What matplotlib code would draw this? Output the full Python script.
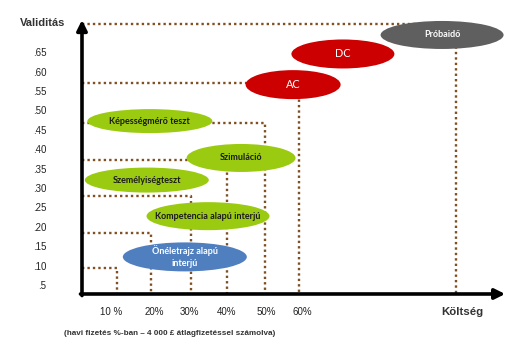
import matplotlib.pyplot as plt
from matplotlib.patches import Ellipse

# methods: name, cost (% of monthly salary), validity
methods = ["Próbaidő", "DC", "AC", "Képességmérő teszt", "Szimuláció",
           "Személyiségteszt", "Kompetencia alapú interjú", "Önéletrajz alapú\ninterjú"]
cost = [96.6, 70.5, 57.4, 19.7, 43.7, 18.9, 35.0, 28.9]
validity = [0.697, 0.648, 0.569, 0.475, 0.380, 0.323, 0.230, 0.125]
groups = ["grey", "red", "red", "green", "green", "green", "green", "blue"]

# dotted guide lines: validity level -> cost level
guide_validity = [0.725, 0.573, 0.469, 0.374, 0.281, 0.186, 0.096]
guide_cost = [100.3, 59.0, 50.0, 40.0, 30.5, 20.0, 11.1]

y_ticks = [0.05, 0.10, 0.15, 0.20, 0.25, 0.30, 0.35, 0.40, 0.45, 0.50, 0.55, 0.60, 0.65]
y_labels = [".5", ".10", ".15", ".20", ".25", ".30", ".35", ".40", ".45", ".50", ".55", ".60", ".65"]
x_ticks = [9.5, 20.8, 30, 40, 50.3, 59.7]
x_labels = ["10 %", "20%", "30%", "40%", "50%", "60%"]

fills = {"grey": "#5f5f5f", "red": "#cc0000", "green": "#9bcb10", "blue": "#4f7fbf"}
text_col = {"grey": "white", "red": "white", "green": "#1a1a1a", "blue": "white"}
# ellipse size in pixels (w, h)
sizes = [(123, 28), (103, 29), (95, 29), (125, 24), (109, 28), (124, 25), (123, 28), (124, 29)]

PX_X = 3.8     # pixels per cost %
PX_Y = 388.0   # pixels per validity unit
W, H = 528, 362

fig = plt.figure(figsize=(W / 100, H / 100), dpi=100)
ax = fig.add_axes([0, 0, 1, 1])
ax.set_xlim(-75 / PX_X, (W - 75) / PX_X)
ax.set_ylim(-56.6 / PX_Y, (H - 56.6) / PX_Y)
ax.axis("off")

x0, y0 = 1.84, 0.0294
brown = "#804f22"
for gv, gc in zip(guide_validity, guide_cost):
    ax.plot([x0, gc, gc], [gv, gv, y0], color=brown, lw=1.7,
            linestyle=(0, (1, 1.3)), zorder=1)

for name, c, v, g, (w, h) in zip(methods, cost, validity, groups, sizes):
    ax.add_patch(Ellipse((c, v), w / PX_X, h / PX_Y, facecolor=fills[g],
                         edgecolor="none", zorder=3))
    big = name in ("DC", "AC")
    ax.text(c, v, name, ha="center", va="center", color=text_col[g],
            fontsize=7.8 if big else 6.5, fontweight="normal" if big else "bold",
            family="Lato", linespacing=1.4, zorder=4)

# axes with arrows
ax.annotate("", xy=(x0, 0.7356), xytext=(x0, y0 - 0.004),
            arrowprops=dict(arrowstyle="-|>,head_length=0.6,head_width=0.3",
                            color="black", lw=2.6, shrinkA=0, shrinkB=0), zorder=5)
ax.annotate("", xy=(113.2, y0), xytext=(x0 - 0.4, y0),
            arrowprops=dict(arrowstyle="-|>,head_length=0.6,head_width=0.3",
                            color="black", lw=2.6, shrinkA=0, shrinkB=0), zorder=5)

for t, lab in zip(y_ticks, y_labels):
    ax.text(-7.5, t, lab, ha="right", va="center", fontsize=7,
            family="Liberation Sans", color="#222222")
for t, lab in zip(x_ticks, x_labels):
    ax.text(t, -0.017, lab, ha="center", va="center", fontsize=7,
            family="Liberation Sans", color="#222222")

ax.text(-8.4, 0.7285, "Validitás", ha="center", va="center", fontsize=8,
        fontweight="bold", family="Liberation Sans", color="#333333")
ax.text(101.9, -0.017, "Költség", ha="center", va="center", fontsize=8.2,
        fontweight="bold", family="Liberation Sans", color="#333333")
ax.text(-2.9, -0.0725, "(havi fizetés %-ban – 4 000 £ átlagfizetéssel számolva)",
        ha="left", va="center", fontsize=5.9, fontweight="bold",
        family="Liberation Sans", color="#333333")

fig.savefig("out.png", dpi=100)
